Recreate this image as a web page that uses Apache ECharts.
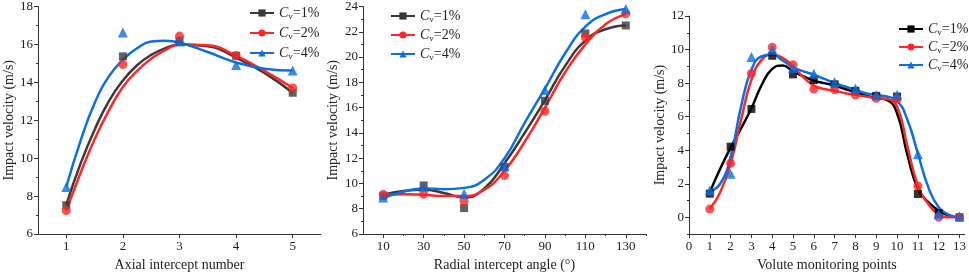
<!DOCTYPE html>
<html>
<head>
<meta charset="utf-8">
<script src="https://cdn.jsdelivr.net/npm/echarts@6/dist/echarts.min.js"></script>
<style>
html, body { margin: 0; padding: 0; background: #fff; }
#chart { width: 969px; height: 277px; }
</style>
</head>
<body>
<div id="chart"></div>
<script>
// panel 1 - axial intercept number
const p1X = [1, 2, 3, 4, 5];
const p1Cv1 = [7.52, 15.37, 16.2, 15.4, 13.45];
const p1Cv2 = [7.23, 14.94, 16.44, 15.42, 13.7];
const p1Cv4 = [8.48, 16.63, 16.15, 14.92, 14.62];
// fitted curves
const p1FitX = [1, 1.25, 1.5, 1.75, 2, 2.25, 2.5, 2.75, 3, 3.5, 4, 4.5, 5];
const p1FitCv1 = [7.55, 9.7, 11.5, 13.0, 14.1, 14.9, 15.45, 15.8, 16.0, 15.9, 15.3, 14.5, 13.45];
const p1FitCv2 = [7.23, 9.2, 11.0, 12.5, 13.75, 14.6, 15.25, 15.7, 16.0, 15.95, 15.4, 14.6, 13.7];
const p1FitCv4 = [8.48, 10.9, 12.9, 14.3, 15.2, 15.8, 16.15, 16.2, 16.1, 15.6, 15.05, 14.72, 14.62];

// panel 2 - radial intercept angle
const p2X = [10, 30, 50, 70, 90, 110, 130];
const p2Cv1 = [9.0, 9.84, 8.05, 11.3, 16.54, 21.87, 22.5];
const p2Cv2 = [9.14, 9.15, 8.62, 10.62, 15.71, 21.56, 23.43];
const p2Cv4 = [8.88, 9.74, 9.19, 11.35, 17.4, 23.38, 23.8];
const p2FitX = [10, 20, 30, 40, 50, 60, 70, 80, 90, 100, 110, 120, 130];
const p2FitCv1 = [9.1, 9.4, 9.5, 9.25, 8.9, 9.6, 11.6, 14.0, 16.6, 19.3, 21.3, 22.2, 22.5];
const p2FitCv2 = [9.1, 9.15, 9.1, 9.0, 9.0, 9.5, 11.0, 13.3, 16.0, 18.8, 21.0, 22.6, 23.4];
const p2FitCv4 = [8.85, 9.35, 9.6, 9.55, 9.65, 10.3, 12.0, 14.8, 17.5, 20.3, 22.4, 23.4, 23.8];

// panel 3 - volute monitoring points
const p3X = [1, 2, 3, 4, 5, 6, 7, 8, 9, 10, 11, 12, 13];
const p3Cv1 = [1.41, 4.21, 6.46, 9.63, 8.52, 8.18, 7.93, 7.54, 7.24, 7.2, 1.39, 0.25, 0.0];
const p3Cv2 = [0.49, 3.23, 8.58, 10.14, 9.1, 7.64, 7.6, 7.28, 7.1, 7.05, 1.87, 0.0, 0.0];
const p3Cv4 = [1.6, 2.6, 9.56, 9.99, 8.9, 8.58, 8.07, 7.68, 7.28, 7.3, 3.76, 0.2, 0.05];
const p3FitX = [1, 1.5, 2, 2.5, 3, 3.5, 4, 4.5, 5, 5.5, 6, 6.5, 7, 7.5, 8, 8.5, 9, 9.5, 10, 10.5, 11, 11.5, 12, 12.5, 13];
const p3FitCv1 = [1.5, 2.9, 4.15, 5.3, 6.5, 7.9, 8.85, 9.05, 8.7, 8.4, 8.15, 8.0, 7.85, 7.65, 7.45, 7.25, 7.1, 7.0, 6.2, 3.7, 1.7, 0.9, 0.4, 0.1, 0.0];
const p3FitCv2 = [0.5, 1.5, 3.2, 5.8, 8.2, 9.4, 9.7, 9.5, 9.0, 8.35, 7.85, 7.65, 7.55, 7.4, 7.3, 7.2, 7.1, 7.05, 6.6, 4.2, 1.9, 0.8, 0.2, 0.0, 0.0];
const p3FitCv4 = [1.55, 2.0, 3.6, 6.6, 8.8, 9.6, 9.7, 9.35, 8.95, 8.7, 8.5, 8.25, 8.0, 7.8, 7.6, 7.4, 7.3, 7.2, 6.95, 5.8, 3.8, 1.8, 0.6, 0.15, 0.0];

const legendPct = ['1%', '2%', '4%'];

const serif = 'Liberation Serif';
const axisColor = '#333';
const gray = '#3a3a3a', black = '#000', red = '#ff2626', blue = '#0b6fe0';

function pairs(xs, ys) {
    return xs.map((x, i) => [x, ys[i]]);
}

function xAxisOf(grid, min, max, ticks, name, nameGap) {
    return {
        type: 'value', gridIndex: grid, min: min, max: max,
        name: name, nameLocation: 'middle', nameGap: nameGap,
        nameTextStyle: { fontFamily: serif, fontSize: 14, color: '#222' },
        axisLine: { show: true, onZero: false, lineStyle: { color: axisColor, width: 1 } },
        axisTick: { show: true, inside: false, length: 4, customValues: ticks, lineStyle: { color: axisColor } },
        axisLabel: { customValues: ticks, margin: 6, fontFamily: serif, fontSize: 13, color: '#222' },
        splitLine: { show: false }
    };
}

function yAxisOf(grid, min, max, ticks, nameGap) {
    return {
        type: 'value', gridIndex: grid, min: min, max: max, position: 'left',
        name: 'Impact velocity (m/s)', nameLocation: 'middle', nameGap: nameGap,
        nameTextStyle: { fontFamily: serif, fontSize: 14, color: '#222' },
        axisLine: { show: true, onZero: false, lineStyle: { color: axisColor, width: 1 } },
        axisTick: { show: true, inside: false, length: 4, customValues: ticks, lineStyle: { color: axisColor } },
        axisLabel: { customValues: ticks, margin: 5, fontFamily: serif, fontSize: 13, color: '#222' },
        splitLine: { show: false }
    };
}

// overlay axis that only draws short minor ticks
function minorAxis(kind, grid, min, max, ticks) {
    return {
        type: 'value', gridIndex: grid, min: min, max: max,
        position: kind === 'x' ? 'bottom' : 'left',
        axisLine: { show: false, onZero: false },
        axisTick: { show: true, inside: false, length: 2, customValues: ticks, lineStyle: { color: axisColor } },
        axisLabel: { show: false },
        splitLine: { show: false }
    };
}

function steps(a, b, step) {
    let r = [];
    for (let v = a; v <= b; v += step) r.push(v);
    return r;
}

const colorsByPanel = [[gray, red, blue], [gray, red, blue], [black, red, blue]];
const symbols = ['rect', 'circle', 'triangle'];
const symSizes = [8, 9, 10];

function panelSeries(p, fitX, fits, xs, pts) {
    let out = [];
    for (let k = 0; k < 3; k++) {
        const name = 'p' + p + '-' + k;
        const c = colorsByPanel[p][k];
        out.push({
            name: name, type: 'line', xAxisIndex: p, yAxisIndex: p,
            data: pairs(fitX, fits[k]), smooth: 0.5, showSymbol: false,
            symbol: symbols[k], symbolSize: symSizes[k],
            lineStyle: { color: c, width: 2.5 }, itemStyle: { color: c },
            z: 2 + k
        });
        out.push({
            name: name, type: 'scatter', xAxisIndex: p, yAxisIndex: p,
            data: pairs(xs, pts[k]), symbol: symbols[k], symbolSize: symSizes[k],
            itemStyle: { color: c }, z: 5 + k
        });
    }
    return out;
}

function legendOf(p, left, top, gap) {
    return {
        orient: 'vertical', left: left, top: top, itemGap: gap,
        itemWidth: 24, itemHeight: 9,
        data: [0, 1, 2].map(k => 'p' + p + '-' + k),
        formatter: function (name) {
            return '{i|C}{s|v}{t|=' + legendPct[+name.split('-')[1]] + '}';
        },
        textStyle: {
            rich: {
                i: { fontFamily: serif, fontStyle: 'italic', fontSize: 14, color: '#222' },
                s: { fontFamily: serif, fontSize: 9, color: '#222', padding: [7, 0, 0, 0] },
                t: { fontFamily: serif, fontSize: 14, color: '#222' }
            }
        }
    };
}

const grids = [
    { left: 38, top: 6, width: 283, height: 231 },
    { left: 363, top: 6, width: 283, height: 231 },
    { left: 689, top: 16, width: 279, height: 221 }
];

let option = {
    backgroundColor: '#fff',
    animation: false,
    grid: grids,
    legend: [legendOf(0, 244, 1, 5), legendOf(1, 385, 4, 4), legendOf(2, 893, 17, 3)],
    xAxis: [
        xAxisOf(0, 0.5, 5.5, p1X, 'Axial intercept number', 24),
        xAxisOf(1, 0, 140, p2X, 'Radial intercept angle (°)', 24),
        xAxisOf(2, 0, 13.25, steps(0, 13, 1), 'Volute monitoring points', 14),
        minorAxis('x', 1, 0, 140, steps(20, 140, 20))
    ],
    yAxis: [
        yAxisOf(0, 6, 18, steps(6, 18, 2), 20),
        yAxisOf(1, 6, 24, steps(6, 24, 2), 23),
        yAxisOf(2, -1, 12, steps(0, 12, 2), 17),
        minorAxis('y', 0, 6, 18, steps(7, 17, 2)),
        minorAxis('y', 1, 6, 24, steps(7, 23, 2)),
        minorAxis('y', 2, -1, 12, steps(-1, 11, 2))
    ],
    series: [].concat(
        panelSeries(0, p1FitX, [p1FitCv1, p1FitCv2, p1FitCv4], p1X, [p1Cv1, p1Cv2, p1Cv4]),
        panelSeries(1, p2FitX, [p2FitCv1, p2FitCv2, p2FitCv4], p2X, [p2Cv1, p2Cv2, p2Cv4]),
        panelSeries(2, p3FitX, [p3FitCv1, p3FitCv2, p3FitCv4], p3X, [p3Cv1, p3Cv2, p3Cv4])
    )
};

let chart = echarts.init(document.getElementById('chart'));
chart.setOption(option);
window.addEventListener('resize', () => {
    chart.resize();
});
</script>
</body>
</html>
